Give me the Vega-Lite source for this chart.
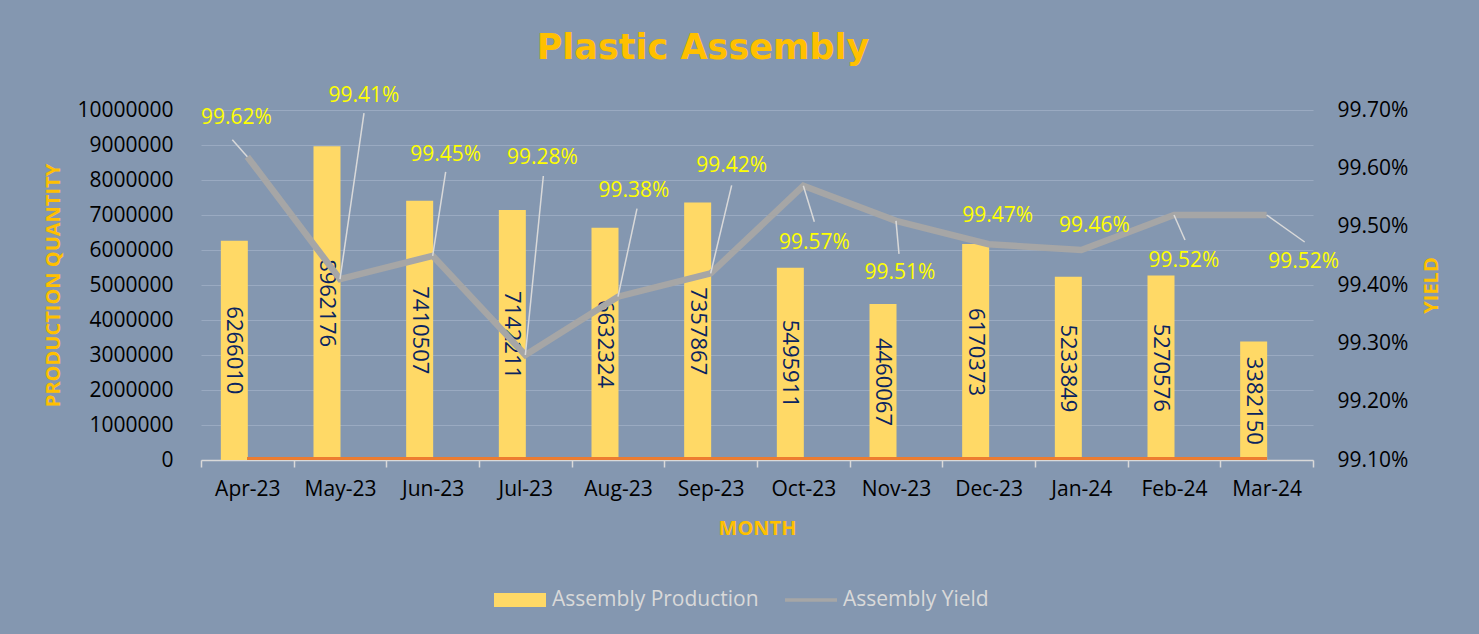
{
  "$schema": "https://vega.github.io/schema/vega-lite/v6.json",
  "width": 1112,
  "height": 350,
  "autosize": "none",
  "padding": {"left": 201, "top": 110, "right": 166, "bottom": 174},
  "background": "#8497B0",
  "title": {
    "text": "Plastic Assembly",
    "fontSize": 35,
    "fontWeight": "bold",
    "color": "#FFC000",
    "font": "DejaVu Sans",
    "anchor": "middle",
    "frame": "group",
    "dx": -54,
    "offset": 19
  },
  "data": {
    "values": [
      {"month": "Apr-23", "production": 6266010, "yield": 0.9962},
      {"month": "May-23", "production": 8962176, "yield": 0.9941},
      {"month": "Jun-23", "production": 7410507, "yield": 0.9945},
      {"month": "Jul-23", "production": 7142211, "yield": 0.9928},
      {"month": "Aug-23", "production": 6632324, "yield": 0.9938},
      {"month": "Sep-23", "production": 7357867, "yield": 0.9942},
      {"month": "Oct-23", "production": 5495911, "yield": 0.9957},
      {"month": "Nov-23", "production": 4460067, "yield": 0.9951},
      {"month": "Dec-23", "production": 6170373, "yield": 0.9947},
      {"month": "Jan-24", "production": 5233849, "yield": 0.9946},
      {"month": "Feb-24", "production": 5270576, "yield": 0.9952},
      {"month": "Mar-24", "production": 3382150, "yield": 0.9952}
    ]
  },
  "encoding": {
    "x": {
      "field": "month",
      "type": "ordinal",
      "sort": null,
      "scale": {"paddingInner": 0, "paddingOuter": 0},
      "title": "MONTH",
      "axis": {
        "labelAngle": 0,
        "labelFontSize": 21,
        "labelColor": "#000000",
        "labelPadding": 11,
        "tickBand": "extent",
        "ticks": true,
        "tickSize": 7,
        "tickColor": "#D9D9D9",
        "tickWidth": 1.5,
        "domainColor": "#D9D9D9",
        "domainWidth": 1.5,
        "titleFontSize": 20,
        "titleFontWeight": "bold",
        "titleColor": "#FFC000",
        "titlePadding": 19
      }
    }
  },
  "layer": [
    {
      "layer": [
        {
          "mark": {"type": "bar", "width": 27, "xOffset": -13},
          "encoding": {
            "color": {
              "datum": "Assembly Production",
              "type": "nominal",
              "scale": {"domain": ["Assembly Production", "Assembly Yield"], "range": ["#FFD966", "#A6A6A6"]},
              "legend": {
                "orient": "none",
                "legendX": 293,
                "legendY": 464,
                "direction": "horizontal",
                "title": null,
                "labelFontSize": 21,
                "labelColor": "#D9D9D9",
                "labelLimit": 400,
                "labelOffset": 6,
                "columnPadding": 26,
                "symbolSize": 2704,
                "encode": {
                  "symbols": {
                    "update": {
                      "shape": {"signal": "datum.value === 'Assembly Production' ? 'M-1,-0.27H1V0.27H-1Z' : 'M-1,-0.07H1V0.07H-1Z'"},
                      "fill": {"signal": "datum.value === 'Assembly Production' ? '#FFD966' : '#A6A6A6'"},
                      "stroke": {"value": "transparent"},
                      "strokeWidth": {"value": 0},
                      "opacity": {"value": 1}
                    }
                  }
                }
              }
            }
          }
        },
        {
          "mark": {"type": "rule", "color": "#ED7D31", "strokeWidth": 2.5, "yOffset": -1.5, "y2Offset": -1.5},
          "encoding": {
            "x": {"datum": "Apr-23", "type": "ordinal"},
            "x2": {"datum": "Mar-24"},
            "y": {"datum": 0, "type": "quantitative"}
          }
        }
      ],
      "encoding": {
        "y": {
          "field": "production",
          "type": "quantitative",
          "scale": {"domain": [0, 10000000], "nice": false},
          "title": "PRODUCTION QUANTITY",
          "axis": {
            "orient": "left",
            "values": [0, 1000000, 2000000, 3000000, 4000000, 5000000, 6000000, 7000000, 8000000, 9000000, 10000000],
            "format": "d",
            "grid": true,
            "gridColor": "#9AAAC1",
            "gridWidth": 1,
            "ticks": false,
            "domain": false,
            "labelFontSize": 21,
            "labelColor": "#000000",
            "labelPadding": 28,
            "titleFontSize": 20,
            "titleFontWeight": "bold",
            "titleColor": "#FFC000",
            "titlePadding": 13
          }
        }
      }
    },
    {
      "mark": {"type": "text", "angle": 90, "align": "center", "baseline": "middle", "xOffset": -13, "color": "#0A2460", "fontSize": 22},
      "encoding": {
        "y": {"field": "production", "type": "quantitative", "scale": {"domain": [0, 20000000], "nice": false}, "axis": null},
        "text": {"field": "production", "type": "quantitative", "format": "d"}
      }
    },
    {
      "layer": [
        {
          "mark": {"type": "line", "strokeWidth": 6.5},
          "encoding": {"color": {"datum": "Assembly Yield", "type": "nominal"}}
        },
        {"transform": [{"filter": "datum.month == 'Apr-23'"}], "mark": {"type": "rule", "color": "#D9D9D9", "strokeWidth": 1.5, "x2Offset": -15, "y2Offset": -17}, "encoding": {"x2": {"field": "month", "bandPosition": 0.5}, "y2": {"field": "yield"}}},
        {"transform": [{"filter": "datum.month == 'May-23'"}], "mark": {"type": "rule", "color": "#D9D9D9", "strokeWidth": 1.5, "x2Offset": 24, "y2Offset": -166}, "encoding": {"x2": {"field": "month", "bandPosition": 0.5}, "y2": {"field": "yield"}}},
        {"transform": [{"filter": "datum.month == 'Jun-23'"}], "mark": {"type": "rule", "color": "#D9D9D9", "strokeWidth": 1.5, "x2Offset": 13, "y2Offset": -84}, "encoding": {"x2": {"field": "month", "bandPosition": 0.5}, "y2": {"field": "yield"}}},
        {"transform": [{"filter": "datum.month == 'Jul-23'"}], "mark": {"type": "rule", "color": "#D9D9D9", "strokeWidth": 1.5, "x2Offset": 18, "y2Offset": -179}, "encoding": {"x2": {"field": "month", "bandPosition": 0.5}, "y2": {"field": "yield"}}},
        {"transform": [{"filter": "datum.month == 'Aug-23'"}], "mark": {"type": "rule", "color": "#D9D9D9", "strokeWidth": 1.5, "x2Offset": 19, "y2Offset": -88}, "encoding": {"x2": {"field": "month", "bandPosition": 0.5}, "y2": {"field": "yield"}}},
        {"transform": [{"filter": "datum.month == 'Sep-23'"}], "mark": {"type": "rule", "color": "#D9D9D9", "strokeWidth": 1.5, "x2Offset": 21, "y2Offset": -88}, "encoding": {"x2": {"field": "month", "bandPosition": 0.5}, "y2": {"field": "yield"}}},
        {"transform": [{"filter": "datum.month == 'Oct-23'"}], "mark": {"type": "rule", "color": "#D9D9D9", "strokeWidth": 1.5, "x2Offset": 11, "y2Offset": 36}, "encoding": {"x2": {"field": "month", "bandPosition": 0.5}, "y2": {"field": "yield"}}},
        {"transform": [{"filter": "datum.month == 'Nov-23'"}], "mark": {"type": "rule", "color": "#D9D9D9", "strokeWidth": 1.5, "x2Offset": 3, "y2Offset": 33}, "encoding": {"x2": {"field": "month", "bandPosition": 0.5}, "y2": {"field": "yield"}}},
        {"transform": [{"filter": "datum.month == 'Feb-24'"}], "mark": {"type": "rule", "color": "#D9D9D9", "strokeWidth": 1.5, "x2Offset": 11, "y2Offset": 25}, "encoding": {"x2": {"field": "month", "bandPosition": 0.5}, "y2": {"field": "yield"}}},
        {"transform": [{"filter": "datum.month == 'Mar-24'"}], "mark": {"type": "rule", "color": "#D9D9D9", "strokeWidth": 1.5, "x2Offset": 38, "y2Offset": 27}, "encoding": {"x2": {"field": "month", "bandPosition": 0.5}, "y2": {"field": "yield"}}},
        {"transform": [{"filter": "datum.month == 'Apr-23'"}], "mark": {"type": "text", "color": "#FFFF00", "fontSize": 21, "dx": -11, "dy": -39}, "encoding": {"text": {"field": "yield", "type": "quantitative", "format": ".2%"}}},
        {"transform": [{"filter": "datum.month == 'May-23'"}], "mark": {"type": "text", "color": "#FFFF00", "fontSize": 21, "dx": 24, "dy": -183}, "encoding": {"text": {"field": "yield", "type": "quantitative", "format": ".2%"}}},
        {"transform": [{"filter": "datum.month == 'Jun-23'"}], "mark": {"type": "text", "color": "#FFFF00", "fontSize": 21, "dx": 13, "dy": -101}, "encoding": {"text": {"field": "yield", "type": "quantitative", "format": ".2%"}}},
        {"transform": [{"filter": "datum.month == 'Jul-23'"}], "mark": {"type": "text", "color": "#FFFF00", "fontSize": 21, "dx": 17, "dy": -197}, "encoding": {"text": {"field": "yield", "type": "quantitative", "format": ".2%"}}},
        {"transform": [{"filter": "datum.month == 'Aug-23'"}], "mark": {"type": "text", "color": "#FFFF00", "fontSize": 21, "dx": 16, "dy": -106}, "encoding": {"text": {"field": "yield", "type": "quantitative", "format": ".2%"}}},
        {"transform": [{"filter": "datum.month == 'Sep-23'"}], "mark": {"type": "text", "color": "#FFFF00", "fontSize": 21, "dx": 21, "dy": -107}, "encoding": {"text": {"field": "yield", "type": "quantitative", "format": ".2%"}}},
        {"transform": [{"filter": "datum.month == 'Oct-23'"}], "mark": {"type": "text", "color": "#FFFF00", "fontSize": 21, "dx": 11, "dy": 57}, "encoding": {"text": {"field": "yield", "type": "quantitative", "format": ".2%"}}},
        {"transform": [{"filter": "datum.month == 'Nov-23'"}], "mark": {"type": "text", "color": "#FFFF00", "fontSize": 21, "dx": 4, "dy": 52}, "encoding": {"text": {"field": "yield", "type": "quantitative", "format": ".2%"}}},
        {"transform": [{"filter": "datum.month == 'Dec-23'"}], "mark": {"type": "text", "color": "#FFFF00", "fontSize": 21, "dx": 9, "dy": -28}, "encoding": {"text": {"field": "yield", "type": "quantitative", "format": ".2%"}}},
        {"transform": [{"filter": "datum.month == 'Jan-24'"}], "mark": {"type": "text", "color": "#FFFF00", "fontSize": 21, "dx": 13, "dy": -24}, "encoding": {"text": {"field": "yield", "type": "quantitative", "format": ".2%"}}},
        {"transform": [{"filter": "datum.month == 'Feb-24'"}], "mark": {"type": "text", "color": "#FFFF00", "fontSize": 21, "dx": 10, "dy": 46}, "encoding": {"text": {"field": "yield", "type": "quantitative", "format": ".2%"}}},
        {"transform": [{"filter": "datum.month == 'Mar-24'"}], "mark": {"type": "text", "color": "#FFFF00", "fontSize": 21, "dx": 37, "dy": 47}, "encoding": {"text": {"field": "yield", "type": "quantitative", "format": ".2%"}}}
      ],
      "encoding": {
        "y": {
          "field": "yield",
          "type": "quantitative",
          "scale": {"domain": [0.991, 0.997], "nice": false, "zero": false},
          "title": "YIELD",
          "axis": {
            "orient": "right",
            "values": [0.991, 0.992, 0.993, 0.994, 0.995, 0.996, 0.997],
            "format": ".2%",
            "grid": false,
            "ticks": false,
            "domain": false,
            "labelFontSize": 21,
            "labelColor": "#000000",
            "labelPadding": 24,
            "titleFontSize": 20,
            "titleFontWeight": "bold",
            "titleColor": "#FFC000",
            "titlePadding": 34,
            "titleAngle": 270
          }
        }
      }
    }
  ],
  "resolve": {"scale": {"y": "independent"}},
  "config": {
    "font": "Open Sans",
    "view": {"stroke": null},
    "text": {"font": "Open Sans", "align": "center", "baseline": "middle"}
  }
}
